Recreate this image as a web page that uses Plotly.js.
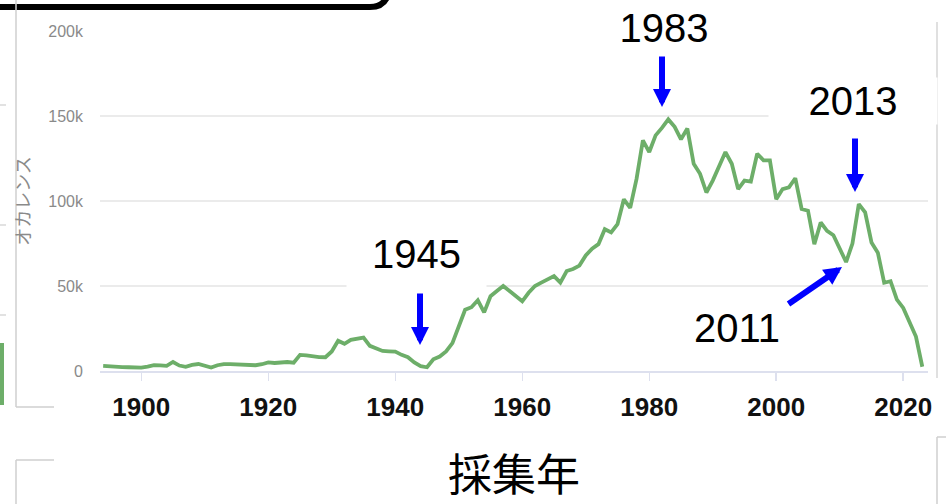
<!DOCTYPE html>
<html>
<head>
<meta charset="utf-8">
<script src="https://cdn.plot.ly/plotly-3.0.1.min.js"></script>
<style>html,body{margin:0;padding:0;background:#fff;}#chart{width:946px;height:504px;}</style>
</head>
<body>
<div id="chart"></div>
<script>
// ---- data (occurrences, in thousands, one value per collection year) ----
const firstYear = 1894;
const occurrencesK = [
  3.0, 2.6, 2.4, 2.3, 2.2, 2.1,                 // 1894-1899
  2.0, 2.6, 3.4, 3.3, 3.0, 5.3, 3.2, 2.5, 3.6, 4.1, // 1900-1909
  2.8, 2.0, 3.4, 4.1, 4.1, 4.0, 3.8, 3.6, 3.4, 4.0, // 1910-1919
  5.1, 4.7, 5.0, 5.3, 4.9, 9.5, 9.2, 8.6, 8.2, 8.1, // 1920-1929
  11.5, 17.8, 16.0, 18.3, 18.8, 19.7, 14.8, 13.0, 11.8, 11.6, // 1930-1939
  11.4, 9.5, 8.1, 5.0, 2.8, 2.2, 6.9, 8.5, 11.5, 16.4, // 1940-1949
  26, 36, 37.5, 41.6, 34.5, 44, 47, 50, 47, 44,     // 1950-1959
  41, 46, 50, 52, 54, 55.8, 52, 58.8, 60, 62,       // 1960-1969
  68, 72, 74.6, 83.4, 81.5, 86.4, 101, 96, 113, 135.7, // 1970-1979
  128.8, 138.6, 143, 148, 143.6, 136.3, 142.6, 121.9, 116, 105, // 1980-1989
  112, 120, 128.8, 121.9, 107, 112, 111.4, 127.8, 123.9, 123.9, // 1990-1999
  101, 107, 108, 113.4, 95.3, 94.3, 74.6, 87.4, 82.4, 79.9, // 2000-2009
  71.6, 64.1, 75, 98.2, 93.3, 75.6, 69.6, 51.9, 52.8, 42, // 2010-2019
  37.1, 29, 20.3, 2.5                                // 2020-2023
];
const years = occurrencesK.map((_, i) => firstYear + i);

const xTickVals = [1900, 1920, 1940, 1960, 1980, 2000, 2020];
const xTickText = ['1900', '1920', '1940', '1960', '1980', '2000', '2020'];
const yTickVals = [0, 50, 100, 150, 200];
const yTickText = ['0', '50k', '100k', '150k', '200k'];

const xTitle = '採集年';
const yTitle = 'オカレンス';
const markYears = ['1983', '2013', '1945', '2011'];

// ---- layout helpers (pixel -> paper fraction) ----
const L = 100, R = 928, T = 31, B = 371;
const fx = p => (p - L) / (R - L);
const fy = p => (B - p) / (B - T);

const gray = '#cfcfcf';
function seg(x0, y0, x1, y1, color, w) {
  return {type: 'line', xref: 'paper', yref: 'paper', x0: fx(x0), y0: fy(y0), x1: fx(x1), y1: fy(y1),
          line: {color: color, width: w}, layer: 'above'};
}
const shapes = [
  // rounded black frame at the top-left
  {type: 'path', xref: 'paper', yref: 'paper',
   path: `M${fx(-10)},${fy(7)} L${fx(370)},${fy(7)} Q${fx(389)},${fy(7)} ${fx(389)},${fy(-15)}`,
   line: {color: '#000', width: 6}, layer: 'above'},
  seg(16, -5, 16, 407, gray, 1.5),
  seg(16, 407, 54, 407, gray, 1.5),
  seg(16, 460, 54, 460, gray, 1.5),
  seg(16, 460, 16, 510, gray, 1.5),
  seg(937, 22, 937, 378, '#d6d6d6', 1.5),
  seg(937, 437, 937, 510, gray, 1.5),
  seg(937, 437, 950, 437, gray, 1.5),
  seg(0, 105, 6, 105, '#d9d9d9', 1.5),
  seg(0, 225, 6, 225, '#d9d9d9', 1.5),
  seg(0, 315, 6, 315, '#d9d9d9', 1.5),
  seg(2, 343, 2, 405, '#6DAE69', 4)
];

const textFont = {family: 'Liberation Sans, Arial, sans-serif', size: 40, color: '#000'};
function label(txt, cx, cy, w, h) {
  return {text: txt, xref: 'paper', yref: 'paper', x: fx(cx), y: fy(cy), xanchor: 'center', yanchor: 'middle',
          showarrow: false, font: textFont, bgcolor: '#fff', width: w, height: h};
}
function arrow(tipX, tipY, tailX, tailY) {
  return {text: '', xref: 'paper', yref: 'paper', x: fx(tipX), y: fy(tipY),
          ax: tailX - tipX, ay: tailY - tipY, axref: 'pixel', ayref: 'pixel',
          showarrow: true, arrowhead: 2, arrowsize: 0.6, arrowwidth: 6, arrowcolor: '#0000FF', standoff: 0};
}
const annotations = [
  label(markYears[0], 664, 28, 164, 50),
  label(markYears[1], 853, 101, 166, 44),
  label(markYears[2], 416, 254, 137, 72),
  label(markYears[3], 737, 328, 100, 40),
  arrow(662, 107, 662, 55),
  arrow(855, 192, 855, 137),
  arrow(420, 345, 420, 292),
  arrow(842, 267, 787, 305)
];

const trace = {
  x: years, y: occurrencesK, type: 'scatter', mode: 'lines',
  line: {color: '#6DAE69', width: 3.8, shape: 'linear'},
  hoverinfo: 'skip'
};

const layout = {
  width: 946, height: 504,
  margin: {l: L, r: 946 - R, t: T, b: 504 - B},
  paper_bgcolor: '#fff', plot_bgcolor: '#fff',
  showlegend: false,
  xaxis: {
    range: [1893.5, 2023.9], tickvals: xTickVals, ticktext: xTickText,
    showgrid: false, zeroline: false, showline: true, linecolor: '#dde0ee', linewidth: 1.5,
    ticks: 'outside', ticklen: 8, tickcolor: '#dde0ee', tickwidth: 1.5,
    tickfont: {family: 'Liberation Sans, Arial, sans-serif', size: 26, color: '#111', weight: 700},
    ticklabelstandoff: 4,
    title: {text: xTitle, standoff: 39,
            font: {family: 'Noto Sans CJK JP, sans-serif', size: 44, color: '#000'}}
  },
  yaxis: {
    range: [0, 200], tickvals: yTickVals, ticktext: yTickText,
    showgrid: true, gridcolor: '#ebebeb', gridwidth: 2, zeroline: false, showline: false,
    ticks: '', tickfont: {family: 'Liberation Sans, Arial, sans-serif', size: 16, color: '#8a8a8a'},
    ticklabelstandoff: 16,
    title: {text: yTitle, standoff: 12,
            font: {family: 'Noto Sans CJK JP, sans-serif', size: 18, color: '#8a8a8a'}}
  },
  shapes: shapes,
  annotations: annotations
};

Plotly.newPlot('chart', [trace], layout, {staticPlot: true, displayModeBar: false});
</script>
</body>
</html>
